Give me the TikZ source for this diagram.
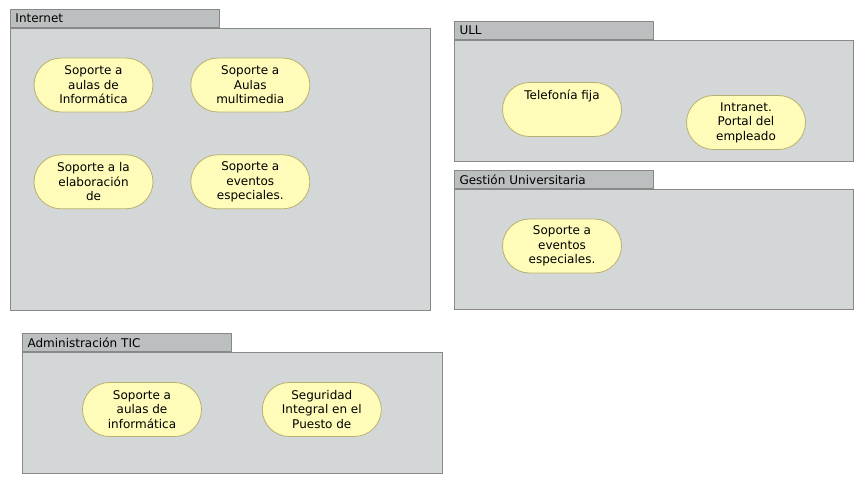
\documentclass[tikz,border=0pt]{standalone}
\usepackage{fontspec}
\setmainfont{DejaVu Sans}
\usetikzlibrary{positioning}

\definecolor{fondo}{RGB}{211,215,216}
\definecolor{gristab}{RGB}{187,191,192}
\definecolor{borde}{RGB}{136,136,136}
\definecolor{amarillo}{RGB}{254,252,184}
\definecolor{bordecaso}{RGB}{184,176,112}

\begin{document}
\begin{tikzpicture} [x=1pt, y=-1pt, node distance=37pt,
                    paquete/.style={draw=borde,fill=fondo,line width=1pt,anchor=north west,inner sep=0pt},
                    pestana/.style={draw=borde,fill=gristab,line width=1pt,anchor=south west,minimum height=18pt,
                                    inner xsep=5pt,inner ysep=0pt,align=left,font=\fontsize{12}{14}\selectfont},
                    caso/.style={draw=bordecaso,fill=amarillo,line width=0.8pt,minimum width=119pt,minimum height=54pt,
                                 rounded corners=27pt,inner sep=0pt,align=center,font=\fontsize{12}{14.5}\selectfont}]

\useasboundingbox (0,0) rectangle (864,484);

% paquetes
\node[paquete, minimum width=420pt, minimum height=282pt] (Internet) at (10,28) {};
\node[pestana, text width=199pt] (TInternet) at (Internet.north west) {Internet};
\node[paquete, minimum width=399pt, minimum height=121pt] (ULL) at (454,40) {};
\node[pestana, text width=189pt] (TULL) at (ULL.north west) {ULL};
\node[paquete, minimum width=399pt, minimum height=120pt] (Gestion) at (454,189) {};
\node[pestana, text width=189pt] (TGestion) at (Gestion.north west) {Gestión Universitaria};
\node[paquete, minimum width=420pt, minimum height=121pt] (Admin) at (22,352) {};
\node[pestana, text width=199pt] (TAdmin) at (Admin.north west) {Administración TIC};

% casos de uso
\node[caso] (I1) at (93.5,85) {Soporte a\\aulas de\\Informática};
\node[caso] (I2) [right=of I1] {Soporte a\\Aulas\\multimedia};
\node[caso] (I3) [below=42pt of I1] {Soporte a la\\elaboración\\de};
\node[caso] (I4) [below=42pt of I2] {Soporte a\\eventos\\especiales.};

\node[caso] (U1) at (562,109.5) {Telefonía fija\\~\\~};
\node[caso] (U2) at (746,122.5) {Intranet.\\Portal del\\empleado};

\node[caso] (G1) at (562,246) {Soporte a\\eventos\\especiales.};

\node[caso] (A1) at (142,409.5) {Soporte a\\aulas de\\informática};
\node[caso] (A2) [right=60pt of A1] {Seguridad\\Integral en el\\Puesto de};
\end{tikzpicture}
\end{document}
